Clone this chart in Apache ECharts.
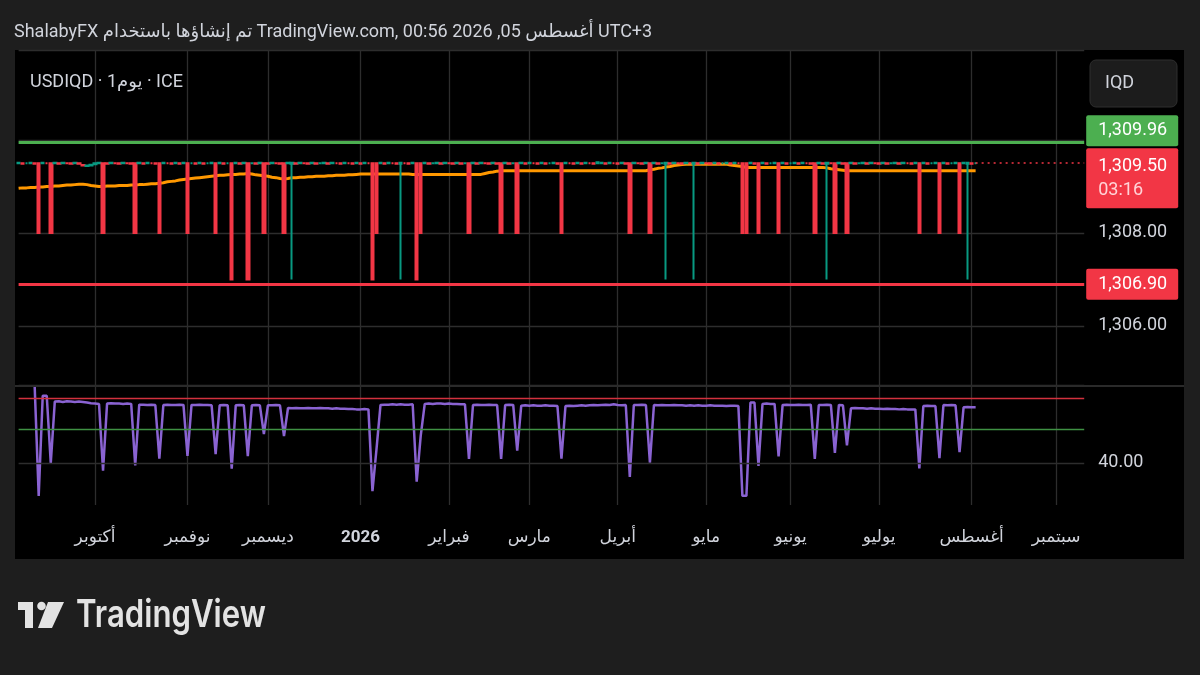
<!DOCTYPE html>
<html><head><meta charset="utf-8">
<script src="https://cdn.jsdelivr.net/npm/echarts@6/dist/echarts.min.js"></script>
<style>html,body{margin:0;padding:0;background:#1e1e1e;}#c{width:1200px;height:675px;}</style>
</head><body><div id="c"></div>
<script>
// ---- data ----
const firstDay = '2025-09-04';
const lastAxisDay = '2026-09-10';
const monthKeys = ['2025-10','2025-11','2025-12','2026-01','2026-02','2026-03','2026-04','2026-05','2026-06','2026-07','2026-08','2026-09'];
const monthNames = ['أكتوبر','نوفمبر','ديسمبر','2026','فبراير','مارس','أبريل','مايو','يونيو','يوليو','أغسطس','سبتمبر'];
const priceTicks = [1306, 1308];
const oscTicks = [40];
const resistance = 1309.96;
const support = 1306.90;
const lastPrice = 1309.50;
const countdown = '03:16';
const oscLevels = [59, 50];

const opens = [
1309.5,1309.5,1309.5,1309.5,1309.5,1309.5,1309.5,1309.5,1309.5,1309.5,
1309.5,1309.5,1309.5,1309.5,1309.5,1309.5,1309.46,1309.44,1309.45,1309.48,
1309.5,1309.5,1309.5,1309.5,1309.5,1309.5,1309.5,1309.5,1309.5,1309.5,
1309.5,1309.5,1309.5,1309.5,1309.5,1309.5,1309.5,1309.5,1309.5,1309.5,
1309.5,1309.5,1309.5,1309.5,1309.5,1309.5,1309.5,1309.5,1309.5,1309.5,
1309.5,1309.5,1309.5,1309.5,1309.5,1309.5,1309.5,1309.5,1309.5,1309.5,
1309.5,1309.5,1309.5,1309.5,1309.5,1309.5,1309.5,1309.5,1309.49,1309.5,
1309.5,1309.5,1309.5,1309.5,1309.5,1309.5,1309.5,1309.5,1309.5,1309.5,
1309.5,1309.5,1309.5,1309.5,1309.5,1309.5,1309.5,1309.5,1309.5,1309.5,
1309.5,1309.5,1309.5,1309.5,1309.5,1309.49,1309.5,1309.5,1309.5,1309.5,
1309.5,1309.5,1309.5,1309.5,1309.5,1309.5,1309.5,1309.5,1309.5,1309.5,
1309.5,1309.5,1309.5,1309.5,1309.5,1309.5,1309.5,1309.5,1309.5,1309.5,
1309.5,1309.5,1309.5,1309.5,1309.5,1309.5,1309.5,1309.5,1309.5,1309.5,
1309.5,1309.5,1309.5,1309.5,1309.5,1309.5,1309.5,1309.5,1309.5,1309.5,
1309.5,1309.5,1309.5,1309.5,1309.5,1309.5,1309.5,1309.5,1309.5,1309.5,
1309.5,1309.5,1309.5,1309.5,1309.5,1309.5,1309.5,1309.5,1309.5,1309.5,
1309.5,1309.49,1309.5,1309.5,1309.5,1309.5,1309.5,1309.5,1309.49,1309.5,
1309.5,1309.5,1309.5,1309.5,1309.5,1309.5,1309.5,1309.5,1309.5,1309.5,
1309.5,1309.5,1309.5,1309.5,1309.5,1309.5,1309.5,1309.5,1309.5,1309.5,
1309.5,1309.5,1309.5,1309.5,1309.5,1309.5,1309.5,1309.5,1309.5,1309.5,
1309.5,1309.49,1309.5,1309.5,1309.5,1309.5,1309.5,1309.5,1309.5,1309.5,
1309.5,1309.5,1309.5,1309.5,1309.5,1309.5,1309.5,1309.5,1309.5,1309.5,
1309.5,1309.5,1309.5,1309.5,1309.5,1309.5,1309.5,1309.5,1309.5,1309.5,
1309.5,1309.5,1309.5,1309.5,1309.5,1309.5,1309.49,1309.5,1309.5
];
const closes = [
1309.51,1309.49,1309.5,1309.51,1309.49,1308,1309.51,1309.5,1308,1309.51,
1309.49,1309.51,1309.5,1309.49,1309.51,1309.49,1309.45,1309.45,1309.47,1309.5,
1309.51,1308,1309.49,1309.51,1309.5,1309.49,1309.51,1309.5,1309.49,1308,
1309.51,1309.49,1309.51,1309.5,1309.49,1308,1309.51,1309.5,1309.49,1309.51,
1309.49,1309.51,1308,1309.5,1309.49,1309.51,1309.49,1309.5,1309.51,1308,
1309.51,1309.49,1309.5,1307,1309.51,1309.49,1309.51,1307,1309.5,1309.49,
1309.51,1308,1309.49,1309.51,1309.5,1309.49,1308,1309.51,1309.51,1309.49,
1309.51,1309.5,1309.49,1309.51,1309.49,1309.5,1309.51,1309.49,1309.51,1309.5,
1309.49,1309.51,1309.5,1309.49,1309.51,1309.49,1309.51,1309.5,1307,1308,
1309.51,1309.49,1309.51,1309.5,1309.49,1309.51,1309.5,1309.49,1309.51,1307,
1308,1309.51,1309.49,1309.5,1309.51,1309.49,1309.51,1309.5,1309.49,1309.51,
1309.49,1309.5,1308,1309.51,1309.49,1309.51,1309.5,1309.49,1309.51,1309.49,
1308,1309.51,1309.49,1309.5,1308,1309.51,1309.49,1309.51,1309.5,1309.49,
1309.51,1309.49,1309.5,1309.51,1309.49,1308,1309.51,1309.5,1309.49,1309.51,
1309.49,1309.51,1309.5,1309.49,1309.52,1309.51,1309.49,1309.51,1309.5,1309.49,
1309.51,1309.49,1308,1309.51,1309.5,1309.49,1309.51,1308,1309.51,1309.49,
1309.5,1309.51,1309.49,1309.51,1309.5,1309.49,1309.51,1309.5,1309.51,1309.49,
1309.51,1309.5,1309.49,1309.51,1309.49,1309.5,1309.51,1309.49,1309.51,1309.5,
1308,1308,1309.51,1309.49,1308,1309.51,1309.49,1309.5,1309.51,1308,
1309.51,1309.49,1309.5,1309.51,1309.49,1309.51,1309.5,1309.49,1308,1309.51,
1309.49,1309.51,1309.5,1308,1309.51,1309.49,1308,1309.51,1309.49,1309.5,
1309.51,1309.49,1309.51,1309.5,1309.49,1309.51,1309.49,1309.5,1309.51,1309.49,
1309.51,1309.5,1309.49,1309.51,1308,1309.51,1309.49,1309.5,1309.51,1308,
1309.51,1309.49,1309.5,1309.51,1308,1309.51,1309.51,1309.49,1309.5
];
const lows = [
1309.48,1309.48,1309.48,1309.48,1309.48,1308,1309.48,1309.48,1308,1309.48,
1309.48,1309.48,1309.48,1309.48,1309.48,1309.48,1309.43,1309.43,1309.44,1309.47,
1309.48,1308,1309.48,1309.48,1309.48,1309.48,1309.48,1309.48,1309.48,1308,
1309.48,1309.48,1309.48,1309.48,1309.48,1308,1309.48,1309.48,1309.48,1309.48,
1309.48,1309.48,1308,1309.48,1309.48,1309.48,1309.48,1309.48,1309.48,1308,
1309.48,1309.48,1309.48,1307,1309.48,1309.48,1309.48,1307,1309.48,1309.48,
1309.48,1308,1309.48,1309.48,1309.48,1309.48,1308,1309.48,1307,1309.48,
1309.48,1309.48,1309.48,1309.48,1309.48,1309.48,1309.48,1309.48,1309.48,1309.48,
1309.48,1309.48,1309.48,1309.48,1309.48,1309.48,1309.48,1309.48,1307,1308,
1309.48,1309.48,1309.48,1309.48,1309.48,1307,1309.48,1309.48,1309.48,1307,
1308,1309.48,1309.48,1309.48,1309.48,1309.48,1309.48,1309.48,1309.48,1309.48,
1309.48,1309.48,1308,1309.48,1309.48,1309.48,1309.48,1309.48,1309.48,1309.48,
1308,1309.48,1309.48,1309.48,1308,1309.48,1309.48,1309.48,1309.48,1309.48,
1309.48,1309.48,1309.48,1309.48,1309.48,1308,1309.48,1309.48,1309.48,1309.48,
1309.48,1309.48,1309.48,1309.48,1309.48,1309.48,1309.48,1309.48,1309.48,1309.48,
1309.48,1309.48,1308,1309.48,1309.48,1309.48,1309.48,1308,1309.48,1309.48,
1309.48,1307,1309.48,1309.48,1309.48,1309.48,1309.48,1309.48,1307,1309.48,
1309.48,1309.48,1309.48,1309.48,1309.48,1309.48,1309.48,1309.48,1309.48,1309.48,
1308,1308,1309.48,1309.48,1308,1309.48,1309.48,1309.48,1309.48,1308,
1309.48,1309.48,1309.48,1309.48,1309.48,1309.48,1309.48,1309.48,1308,1309.48,
1309.48,1307,1309.48,1308,1309.48,1309.48,1308,1309.48,1309.48,1309.48,
1309.48,1309.48,1309.48,1309.48,1309.48,1309.48,1309.48,1309.48,1309.48,1309.48,
1309.48,1309.48,1309.48,1309.48,1308,1309.48,1309.48,1309.48,1309.48,1308,
1309.48,1309.48,1309.48,1309.48,1308,1309.48,1307,1309.48,1309.48
];
const highs = [
1309.52,1309.52,1309.52,1309.52,1309.52,1309.5,1309.52,1309.52,1309.5,1309.52,
1309.52,1309.52,1309.52,1309.52,1309.52,1309.52,1309.47,1309.46,1309.48,1309.51,
1309.52,1309.5,1309.52,1309.52,1309.52,1309.52,1309.52,1309.52,1309.52,1309.5,
1309.52,1309.52,1309.52,1309.52,1309.52,1309.5,1309.52,1309.52,1309.52,1309.52,
1309.52,1309.52,1309.5,1309.52,1309.52,1309.52,1309.52,1309.52,1309.52,1309.5,
1309.52,1309.52,1309.52,1309.5,1309.52,1309.52,1309.52,1309.5,1309.52,1309.52,
1309.52,1309.5,1309.52,1309.52,1309.52,1309.52,1309.5,1309.52,1309.52,1309.52,
1309.52,1309.52,1309.52,1309.52,1309.52,1309.52,1309.52,1309.52,1309.52,1309.52,
1309.52,1309.52,1309.52,1309.52,1309.52,1309.52,1309.52,1309.52,1309.5,1309.5,
1309.52,1309.52,1309.52,1309.52,1309.52,1309.52,1309.52,1309.52,1309.52,1309.5,
1309.5,1309.52,1309.52,1309.52,1309.52,1309.52,1309.52,1309.52,1309.52,1309.52,
1309.52,1309.52,1309.5,1309.52,1309.52,1309.52,1309.52,1309.52,1309.52,1309.52,
1309.5,1309.52,1309.52,1309.52,1309.5,1309.52,1309.52,1309.52,1309.52,1309.52,
1309.52,1309.52,1309.52,1309.52,1309.52,1309.5,1309.52,1309.52,1309.52,1309.52,
1309.52,1309.52,1309.52,1309.52,1309.53,1309.52,1309.52,1309.52,1309.52,1309.52,
1309.52,1309.52,1309.5,1309.52,1309.52,1309.52,1309.52,1309.5,1309.52,1309.52,
1309.52,1309.52,1309.52,1309.52,1309.52,1309.52,1309.52,1309.52,1309.52,1309.52,
1309.52,1309.52,1309.52,1309.52,1309.52,1309.52,1309.52,1309.52,1309.52,1309.52,
1309.5,1309.5,1309.52,1309.52,1309.5,1309.52,1309.52,1309.52,1309.52,1309.5,
1309.52,1309.52,1309.52,1309.52,1309.52,1309.52,1309.52,1309.52,1309.5,1309.52,
1309.52,1309.52,1309.52,1309.5,1309.52,1309.52,1309.5,1309.52,1309.52,1309.52,
1309.52,1309.52,1309.52,1309.52,1309.52,1309.52,1309.52,1309.52,1309.52,1309.52,
1309.52,1309.52,1309.52,1309.52,1309.5,1309.52,1309.52,1309.52,1309.52,1309.5,
1309.52,1309.52,1309.52,1309.52,1309.5,1309.52,1309.52,1309.52,1309.52
];
const maValues = [
1308.96,1308.97,1308.97,1308.98,1308.98,1308.99,1308.99,1309.00,1309.00,1309.01,
1309.01,1309.02,1309.03,1309.03,1309.04,1309.05,1309.05,1309.04,1309.02,1309.01,
1309.00,1309.00,1309.01,1309.01,1309.01,1309.02,1309.02,1309.02,1309.03,1309.03,
1309.04,1309.04,1309.05,1309.06,1309.06,1309.07,1309.08,1309.10,1309.11,1309.12,
1309.14,1309.15,1309.16,1309.17,1309.18,1309.19,1309.20,1309.21,1309.22,1309.23,
1309.24,1309.24,1309.25,1309.26,1309.26,1309.27,1309.27,1309.28,1309.27,1309.25,
1309.24,1309.23,1309.22,1309.20,1309.19,1309.17,1309.16,1309.17,1309.19,1309.19,
1309.20,1309.20,1309.21,1309.21,1309.22,1309.22,1309.22,1309.23,1309.23,1309.24,
1309.24,1309.24,1309.25,1309.25,1309.26,1309.27,1309.27,1309.27,1309.27,1309.27,
1309.27,1309.27,1309.27,1309.27,1309.27,1309.27,1309.27,1309.27,1309.26,1309.26,
1309.26,1309.26,1309.26,1309.26,1309.26,1309.26,1309.26,1309.26,1309.26,1309.26,
1309.26,1309.26,1309.26,1309.26,1309.26,1309.26,1309.28,1309.30,1309.31,1309.33,
1309.34,1309.34,1309.34,1309.34,1309.34,1309.34,1309.34,1309.34,1309.34,1309.34,
1309.34,1309.34,1309.34,1309.34,1309.34,1309.34,1309.34,1309.34,1309.34,1309.34,
1309.34,1309.34,1309.34,1309.34,1309.34,1309.34,1309.34,1309.34,1309.34,1309.34,
1309.34,1309.34,1309.34,1309.34,1309.34,1309.34,1309.34,1309.36,1309.37,1309.39,
1309.40,1309.42,1309.43,1309.45,1309.46,1309.47,1309.48,1309.48,1309.48,1309.48,
1309.48,1309.48,1309.48,1309.48,1309.48,1309.48,1309.48,1309.46,1309.45,1309.44,
1309.43,1309.41,1309.41,1309.41,1309.41,1309.41,1309.41,1309.41,1309.41,1309.41,
1309.41,1309.41,1309.41,1309.41,1309.41,1309.41,1309.41,1309.41,1309.41,1309.41,
1309.41,1309.40,1309.38,1309.37,1309.36,1309.35,1309.34,1309.34,1309.34,1309.34,
1309.34,1309.34,1309.34,1309.34,1309.34,1309.34,1309.34,1309.34,1309.34,1309.34,
1309.34,1309.34,1309.34,1309.34,1309.34,1309.34,1309.34,1309.34,1309.34,1309.34,
1309.34,1309.34,1309.34,1309.34,1309.34,1309.34,1309.34,1309.34,1309.34
];
const oscValues = [
null,null,null,null,62.5,30.3,59.8,59.8,39.9,58.1,
58.2,58.0,58.2,58.1,58.0,58.1,58.0,57.8,57.6,57.5,
57.4,37.7,57.5,57.6,57.5,57.5,57.4,57.5,57.4,39.3,
57.2,57.2,57.1,57.2,57.1,41.3,57.1,57.2,57.1,57.1,
57.2,57.1,42.1,57.1,57.1,57.2,57.1,57.1,57.0,42.6,
57.0,57.1,57.0,38.3,57.0,57.1,57.0,42.0,57.0,57.1,
57.0,48.5,57.0,57.0,57.1,57.0,47.9,56.2,56.1,56.2,
56.1,56.1,56.2,56.1,56.1,56.2,56.1,56.1,56.0,56.1,
56.0,56.0,55.9,55.9,55.8,55.8,55.9,55.8,31.7,44.0,
57.1,57.2,57.2,57.3,57.2,57.3,57.2,57.2,57.3,34.5,
48.0,57.4,57.5,57.4,57.5,57.5,57.4,57.5,57.4,57.4,
57.3,57.3,41.2,57.1,57.2,57.1,57.1,57.2,57.1,57.1,
41.2,57.1,57.2,57.1,43.6,56.9,57.0,56.9,57.0,56.9,
56.9,57.0,56.9,56.9,56.8,41.3,56.8,56.9,56.8,56.9,
57.0,56.9,57.0,57.1,57.0,57.1,57.2,57.1,57.3,57.1,
57.0,57.1,35.9,57.1,57.1,57.2,57.1,40.1,57.1,57.0,
57.1,57.0,57.0,57.1,57.0,57.0,56.9,57.0,56.9,57.0,
56.9,56.9,57.0,56.9,56.9,56.9,56.8,56.9,56.9,56.8,
30.3,30.3,57.8,57.8,39.1,57.4,57.5,57.4,57.4,41.9,
57.1,57.2,57.1,57.1,57.2,57.1,57.1,57.2,41.2,57.1,
57.1,57.2,57.1,43.0,57.1,57.0,45.2,56.1,56.2,56.1,
56.1,56.0,56.1,56.0,56.0,55.9,56.0,55.9,55.9,55.8,
55.9,55.8,55.8,55.8,38.4,56.8,56.9,56.8,56.8,41.4,
57.1,57.0,57.1,57.0,43.2,56.4,56.5,56.4,56.4
];

// ---- build ----
function weekdays(a, b) {
  const out = [];
  let d = new Date(a + 'T00:00:00Z');
  const e = new Date(b + 'T00:00:00Z');
  while (d <= e) {
    const w = d.getUTCDay();
    if (w !== 0 && w !== 6) out.push(d.toISOString().slice(0, 10));
    d = new Date(d.getTime() + 86400000);
  }
  return out;
}
const days = weekdays(firstDay, lastAxisDay);
const candles = opens.map((o, i) => [o, closes[i], lows[i], highs[i]]);
const isMonthStart = (idx) => idx > 0 && days[idx].slice(0, 7) !== days[idx - 1].slice(0, 7);
const fmt = v => v.toLocaleString('en-US', {minimumFractionDigits: 2, maximumFractionDigits: 2});
const FONT = 'Roboto, "DejaVu Sans", sans-serif';
const TXT = '#d1d4dc';
const GRID = '#2d2d2d';
const RED = '#f23645', GREEN = '#089981';

const chart = echarts.init(document.getElementById('c'), null, {renderer: 'canvas'});
const gridL = 18.6, gridR = 115.8;
chart.setOption({
  animation: false,
  backgroundColor: '#1e1e1e',
  textStyle: {fontFamily: FONT},
  grid: [
    {left: gridL, right: gridR, top: 50, height: 335},
    {left: gridL, right: gridR, top: 387, height: 118}
  ],
  xAxis: [
    {type: 'category', gridIndex: 0, data: days, boundaryGap: false,
     axisLine: {show: false}, axisTick: {show: false}, axisLabel: {show: false},
     splitLine: {show: true, interval: (i) => isMonthStart(i), lineStyle: {color: GRID, width: 1.3}}},
    {type: 'category', gridIndex: 1, data: days, boundaryGap: false,
     axisLine: {show: false}, axisTick: {show: false},
     axisLabel: {show: true, interval: (i) => isMonthStart(i), margin: 24, color: TXT, fontSize: 17, fontFamily: FONT,
       formatter: (v) => {
         const k = monthKeys.indexOf(v.slice(0, 7));
         const t = monthNames[k];
         return /^\d+$/.test(t) ? '{b|' + t + '}' : t;
       },
       rich: {b: {fontWeight: 'bold', fontSize: 17, color: TXT, fontFamily: FONT}}},
     splitLine: {show: true, interval: (i) => isMonthStart(i), lineStyle: {color: GRID, width: 1.3}}}
  ],
  yAxis: [
    {type: 'value', gridIndex: 0, position: 'right', min: 1304.731, max: 1311.935, splitNumber: 3,
     axisLine: {show: false}, axisTick: {show: false},
     axisLabel: {margin: 14, color: TXT, fontSize: 18, fontFamily: FONT,
       formatter: v => priceTicks.indexOf(Math.round(v * 100) / 100) >= 0 ? fmt(v) : ''},
     splitLine: {show: true, lineStyle: {color: GRID, width: 1.3}}},
    {type: 'value', gridIndex: 1, position: 'right', min: 27.6, max: 62.4, splitNumber: 3,
     axisLine: {show: false}, axisTick: {show: false},
     axisLabel: {margin: 14, color: TXT, fontSize: 18, fontFamily: FONT,
       formatter: v => oscTicks.indexOf(Math.round(v * 100) / 100) >= 0 ? fmt(v) : ''},
     splitLine: {show: false}}
  ],
  series: [
    {type: 'line', name: 'MA', xAxisIndex: 0, yAxisIndex: 0, data: maValues, showSymbol: false, z: 2,
     lineStyle: {color: '#ff9800', width: 3}, silent: true,
     markLine: {silent: true, symbol: ['none', 'none'], animation: false,
       data: [
         {yAxis: resistance, lineStyle: {color: '#4caf50', width: 3, type: 'solid'},
          label: {show: true, position: 'end', distance: 2, formatter: fmt(resistance), color: '#ffffff',
            fontSize: 18, fontFamily: FONT, backgroundColor: '#4caf50', padding: [6, 6, 6, 12], width: 74, lineHeight: 19,
            borderRadius: 2, offset: [0, -11]}},
         {yAxis: support, lineStyle: {color: RED, width: 3, type: 'solid'},
          label: {show: true, position: 'end', distance: 2, formatter: fmt(support), color: '#ffffff',
            fontSize: 18, fontFamily: FONT, backgroundColor: RED, padding: [6, 6, 6, 12], width: 74, lineHeight: 19,
            borderRadius: 2}}
       ]}},
    {type: 'candlestick', name: 'USDIQD', xAxisIndex: 0, yAxisIndex: 0, data: candles, z: 3,
     barWidth: 3, silent: true,
     itemStyle: {color: GREEN, color0: RED, borderColor: GREEN, borderColor0: RED, borderWidth: 2},
     markLine: {silent: true, symbol: ['none', 'none'], animation: false,
       data: [[
         {coord: [days[opens.length - 1], lastPrice], lineStyle: {color: RED, width: 1.5, type: [2, 4]}},
         {coord: [days[days.length - 1], lastPrice],
          label: {show: true, position: 'end', distance: 2, formatter: '{a|' + fmt(lastPrice) + '}\n{b|' + countdown + '}',
            backgroundColor: RED, padding: [6, 6, 6, 12], width: 74, borderRadius: 2, offset: [0, 15],
            rich: {a: {color: '#ffffff', fontSize: 18, lineHeight: 24, fontFamily: FONT},
                   b: {color: '#ffd3d7', fontSize: 18, lineHeight: 24, fontFamily: FONT}}}}
       ]]}},
    {type: 'line', name: 'OSC', xAxisIndex: 1, yAxisIndex: 1, data: oscValues, showSymbol: false, z: 3,
     lineStyle: {color: '#8a63d2', width: 2.5}, silent: true,
     markLine: {silent: true, symbol: ['none', 'none'], animation: false, label: {show: false},
       data: [
         {yAxis: oscLevels[0], lineStyle: {color: '#d2313e', width: 1.3, type: 'solid'}},
         {yAxis: oscLevels[1], lineStyle: {color: '#3f9143', width: 1.3, type: 'solid'}},
         {yAxis: oscTicks[0], lineStyle: {color: GRID, width: 1.3, type: 'solid'}}
       ]}}
  ],
  graphic: [
    {type: 'rect', z: -100, silent: true, shape: {x: 15, y: 50, width: 1169, height: 509}, style: {fill: '#000000'}},
    {type: 'line', z: 10, silent: true, shape: {x1: 15, y1: 386, x2: 1184, y2: 386}, style: {stroke: '#2a2a2a', lineWidth: 2}},
    {type: 'rect', z: 10, silent: true, shape: {x: 1090, y: 60, width: 87, height: 47, r: 6}, style: {fill: '#1c1c1c', stroke: '#2e2e2e', lineWidth: 1}},
    {type: 'text', z: 11, silent: true, x: 1105, y: 83.5, style: {text: 'IQD', fill: TXT, font: '18px ' + FONT, textVerticalAlign: 'middle'}},
    {type: 'text', z: 11, silent: true, x: 14, y: 32, style: {text: 'ShalabyFX تم إنشاؤها باستخدام TradingView.com, 00:56 2026 ,05 أغسطس UTC+3', fill: TXT, font: '18px ' + FONT, textVerticalAlign: 'middle'}},
    {type: 'text', z: 11, silent: true, x: 30, y: 82, style: {text: 'USDIQD · 1يوم · ICE', fill: TXT, font: '18px ' + FONT, textVerticalAlign: 'middle'}},
    {type: 'rect', z: 11, silent: true, shape: {x: 18, y: 602, width: 15, height: 8}, style: {fill: '#e3e3e3'}},
    {type: 'rect', z: 11, silent: true, shape: {x: 25, y: 602, width: 8, height: 26}, style: {fill: '#e3e3e3'}},
    {type: 'circle', z: 11, silent: true, shape: {cx: 41.5, cy: 606, r: 4.3}, style: {fill: '#e3e3e3'}},
    {type: 'polygon', z: 11, silent: true, shape: {points: [[48, 602], [64, 602], [52, 628], [38, 628]]}, style: {fill: '#e3e3e3'}},
    {type: 'text', z: 11, silent: true, x: 76, y: 616, scaleX: 0.82, style: {text: 'TradingView', fill: '#e3e3e3', font: '600 38px Inter, Lato, sans-serif', textVerticalAlign: 'middle'}}
  ]
});
</script>
</body></html>
